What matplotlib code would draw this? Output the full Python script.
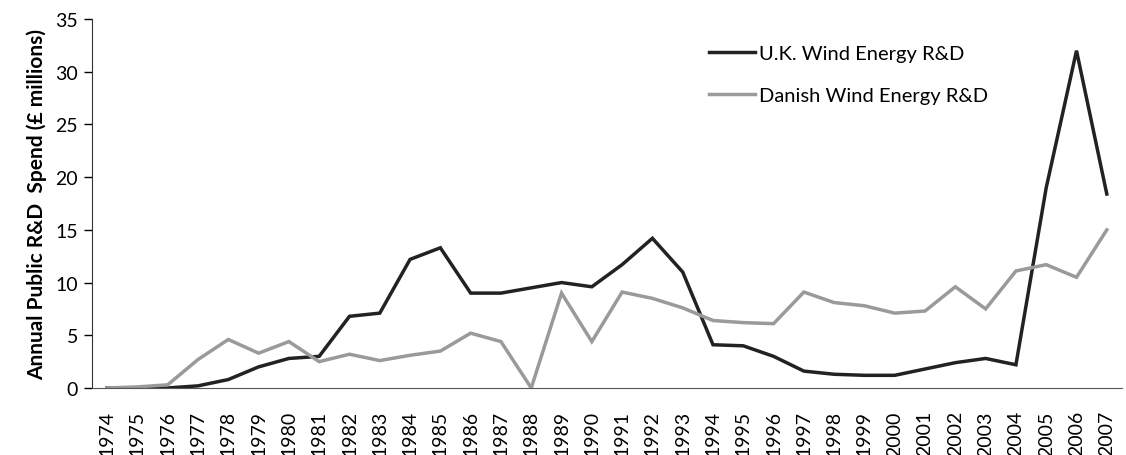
import numpy as np
import matplotlib
matplotlib.use("Agg")
import matplotlib.pyplot as plt

plt.rcParams['font.family'] = ['Lato', 'DejaVu Sans']

# data (GBP millions)
years = [str(y) for y in range(1974, 2008)]
uk = [0, 0, 0, 0.2, 0.8, 2.0, 2.8, 3.0, 6.8, 7.1, 12.2, 13.3, 9.0, 9.0, 9.5, 10.0, 9.6,
      11.7, 14.2, 11.0, 4.1, 4.0, 3.0, 1.6, 1.3, 1.2, 1.2, 1.8, 2.4, 2.8, 2.2, 19.0, 32.0, 18.4]
danish = [0, 0.1, 0.3, 2.7, 4.6, 3.3, 4.4, 2.5, 3.2, 2.6, 3.1, 3.5, 5.2, 4.4, 0, 9.0, 4.4,
          9.1, 8.5, 7.6, 6.4, 6.2, 6.1, 9.1, 8.1, 7.8, 7.1, 7.3, 9.6, 7.5, 11.1, 11.7, 10.5, 15.0]
yticks = [0, 5, 10, 15, 20, 25, 30, 35]

fig = plt.figure(figsize=(11.26, 4.56), dpi=100)
ax = fig.add_axes([0.0817, 0.147, 0.9147, 0.809])

x = np.arange(len(years))
ax.plot(x, uk, color='#222222', lw=2.5, label='U.K. Wind Energy R&D', solid_joinstyle='miter')
ax.plot(x, danish, color='#9a9a9a', lw=2.5, label='Danish Wind Energy R&D', solid_joinstyle='miter')

ax.set_xlim(-0.5, len(years) - 0.5)
ax.set_ylim(0, 35)
ax.set_yticks(yticks)
ax.set_xticks(x)
ax.set_xticklabels(years, rotation=90, fontsize=14)
ax.tick_params(axis='y', labelsize=14, length=6, width=1, direction='out', pad=4)
ax.tick_params(axis='x', length=0, pad=16)

ax.spines['top'].set_visible(False)
ax.spines['right'].set_visible(False)
ax.spines['left'].set_color('#333333')
ax.spines['bottom'].set_color('#555555')

ax.set_ylabel('Annual Public R&D  Spend (£ millions)', fontsize=15, fontweight='bold', labelpad=6)

ax.legend(loc='upper left', bbox_to_anchor=(709 / 1126, 1 - 46 / 456), bbox_transform=fig.transFigure,
          frameon=False, fontsize=14.5, borderpad=0, borderaxespad=0,
          handlelength=2.3, handletextpad=0.2, labelspacing=1.25)

fig.savefig('out.png', dpi=100)
